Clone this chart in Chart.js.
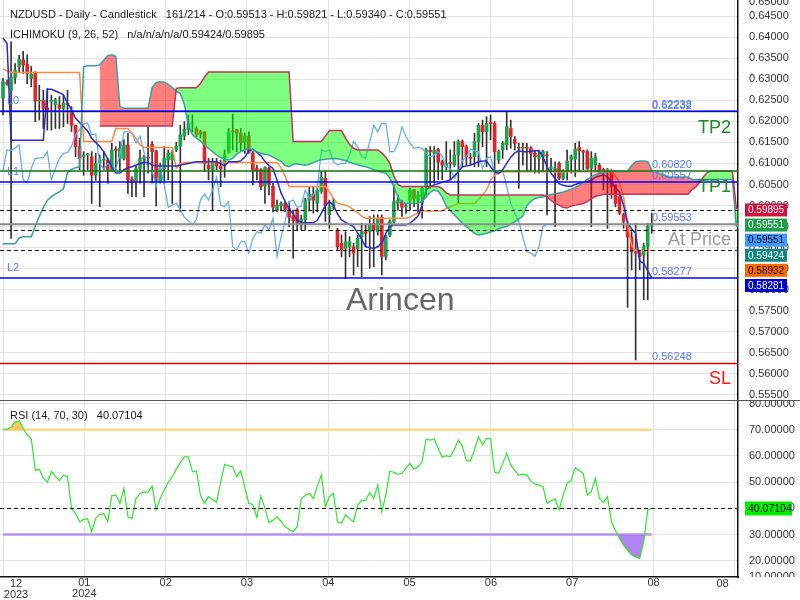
<!DOCTYPE html>
<html>
<head>
<meta charset="utf-8">
<script src="https://cdn.jsdelivr.net/npm/chart.js@4.4.1/dist/chart.umd.min.js"></script>
<style>
  body { margin: 0; background: #fff; }
  #wrap { width: 800px; height: 600px; overflow: hidden; }
  canvas { display: block; }
</style>
</head>
<body>
<div id="wrap">
  <canvas id="chart" width="800" height="400"></canvas>
  <canvas id="rsi" width="800" height="200"></canvas>
</div>
<script>
// daily candles, bar 0 .. 161
const opens = [
  0.6255,0.6293,0.6273,0.6304,0.6330,0.6346,0.6336,0.6302,0.6314,0.6248,
  0.6250,0.6232,0.6247,0.6239,0.6239,0.6231,0.6242,0.6223,0.6191,0.6140,
  0.6116,0.6120,0.6116,0.6072,0.6102,0.6108,0.6108,0.6084,0.6133,0.6112,
  0.6112,0.6144,0.6062,0.6057,0.6088,0.6112,0.6115,0.6146,0.6128,0.6057,
  0.6088,0.6108,0.6108,0.6132,0.6141,0.6165,0.6181,0.6194,0.6183,0.6175,
  0.6175,0.6096,0.6085,0.6102,0.6094,0.6100,0.6126,0.6176,0.6180,0.6172,
  0.6149,0.6165,0.6124,0.6088,0.6085,0.6046,0.6089,0.6046,0.5988,0.6000,
  0.6005,0.5993,0.5974,0.5990,0.5954,0.5966,0.6013,0.6027,0.6005,0.6033,
  0.6065,0.5978,0.5997,0.5942,0.5910,0.5898,0.5902,0.5902,0.5898,0.5926,
  0.5938,0.5938,0.5958,0.5938,0.5972,0.5879,0.5930,0.5962,0.6005,0.6009,
  0.5997,0.6013,0.6037,0.6013,0.6021,0.6045,0.6131,0.6124,0.6133,0.6104,
  0.6092,0.6101,0.6096,0.6120,0.6152,0.6140,0.6114,0.6116,0.6152,0.6191,
  0.6175,0.6196,0.6195,0.6108,0.6132,0.6144,0.6183,0.6157,0.6137,0.6136,
  0.6138,0.6136,0.6124,0.6112,0.6116,0.6120,0.6088,0.6085,0.6100,0.6065,
  0.6081,0.6110,0.6110,0.6138,0.6128,0.6128,0.6088,0.6096,0.6096,0.6084,
  0.6083,0.6080,0.6049,0.6021,0.5978,0.5955,0.5925,0.5890,0.5888,0.5882,
  0.5902,0.59513
];
const highs = [
  0.6302,0.6298,0.6389,0.6337,0.6357,0.6366,0.6358,0.6330,0.6318,0.6286,
  0.6274,0.6278,0.6262,0.6255,0.6259,0.6262,0.6274,0.6235,0.6191,0.6160,
  0.6128,0.6124,0.6128,0.6124,0.6120,0.6128,0.6112,0.6148,0.6140,0.6152,
  0.6156,0.6171,0.6068,0.6096,0.6132,0.6120,0.6187,0.6152,0.6132,0.6100,
  0.6140,0.6132,0.6132,0.6150,0.6191,0.6199,0.6215,0.6215,0.6187,0.6179,
  0.6175,0.6112,0.6112,0.6112,0.6108,0.6132,0.6183,0.6217,0.6181,0.6183,
  0.6172,0.6175,0.6128,0.6096,0.6088,0.6092,0.6092,0.6053,0.6013,0.6009,
  0.6009,0.6009,0.5989,0.5993,0.5977,0.6017,0.6045,0.6045,0.6045,0.6081,
  0.6081,0.6013,0.6017,0.5946,0.5930,0.5938,0.5926,0.5910,0.5930,0.5958,
  0.5954,0.5974,0.5978,0.5978,0.5978,0.5930,0.5966,0.6049,0.6025,0.6013,
  0.6005,0.6041,0.6039,0.6033,0.6045,0.6136,0.6140,0.6140,0.6136,0.6108,
  0.6152,0.6132,0.6152,0.6156,0.6156,0.6144,0.6124,0.6172,0.6195,0.6203,
  0.6211,0.6215,0.6199,0.6132,0.6152,0.6223,0.6203,0.6164,0.6148,0.6148,
  0.6148,0.6140,0.6132,0.6132,0.6132,0.6128,0.6112,0.6104,0.6104,0.6085,
  0.6132,0.6120,0.6148,0.6152,0.6132,0.6132,0.6128,0.6124,0.6100,0.6088,
  0.6088,0.6085,0.6049,0.6025,0.5982,0.5962,0.5938,0.5958,0.5894,0.5910,
  0.5958,0.59821
];
const lows = [
  0.6215,0.6286,0.5922,0.6290,0.6318,0.6314,0.6289,0.6282,0.6199,0.6203,
  0.6183,0.6179,0.6179,0.6183,0.6183,0.6187,0.6195,0.6176,0.6116,0.6085,
  0.6072,0.6085,0.6005,0.6060,0.5997,0.6085,0.6053,0.6081,0.6085,0.6081,
  0.6108,0.6029,0.6021,0.6021,0.6053,0.6021,0.6077,0.6053,0.5999,0.6053,
  0.6053,0.6061,0.6005,0.6128,0.5985,0.6156,0.6168,0.6175,0.6164,0.6160,
  0.6081,0.6061,0.5989,0.6085,0.6045,0.6067,0.6124,0.6132,0.6128,0.6128,
  0.6124,0.6124,0.6049,0.6061,0.6037,0.6005,0.6025,0.5985,0.5985,0.5989,
  0.5985,0.5950,0.5875,0.5942,0.5942,0.5942,0.5989,0.5982,0.5985,0.6029,
  0.5962,0.5946,0.5989,0.5894,0.5878,0.5827,0.5878,0.5835,0.5855,0.5831,
  0.5902,0.5851,0.5855,0.5930,0.5835,0.5871,0.5926,0.5958,0.5989,0.5974,
  0.5981,0.5989,0.5997,0.5981,0.5970,0.6025,0.6041,0.6053,0.6061,0.6061,
  0.6085,0.6061,0.6092,0.6005,0.6092,0.6096,0.6096,0.6092,0.6092,0.6140,
  0.6092,0.6156,0.5950,0.6100,0.6112,0.6132,0.6136,0.6132,0.6041,0.6096,
  0.6081,0.6081,0.6077,0.6077,0.6081,0.5978,0.6081,0.5950,0.6061,0.6061,
  0.6061,0.6077,0.6069,0.6081,0.6085,0.6085,0.5950,0.6081,0.6077,0.6037,
  0.5946,0.6017,0.5997,0.5978,0.5946,0.5758,0.5847,0.5633,0.5847,0.5776,
  0.5776,0.59340
];
const closes = [
  0.6294,0.6290,0.6304,0.6322,0.6347,0.6334,0.6314,0.6312,0.6248,0.6250,
  0.6231,0.6226,0.6250,0.6251,0.6231,0.6243,0.6240,0.6191,0.6140,0.6112,
  0.6120,0.6122,0.6072,0.6100,0.6108,0.6110,0.6084,0.6132,0.6131,0.6136,
  0.6144,0.6061,0.6054,0.6088,0.6112,0.6113,0.6113,0.6128,0.6061,0.6088,
  0.6112,0.6124,0.6126,0.6141,0.6168,0.6181,0.6194,0.6196,0.6168,0.6170,
  0.6099,0.6087,0.6100,0.6094,0.6087,0.6120,0.6175,0.6175,0.6172,0.6149,
  0.6165,0.6126,0.6083,0.6083,0.6045,0.6090,0.6049,0.5996,0.6001,0.6005,
  0.5991,0.5972,0.5964,0.5954,0.5967,0.6013,0.6027,0.6013,0.6037,0.6067,
  0.6001,0.5997,0.6009,0.5902,0.5894,0.5914,0.5914,0.5887,0.5922,0.5938,
  0.5934,0.5954,0.5942,0.5970,0.5879,0.5926,0.5962,0.6009,0.6013,0.5996,
  0.5999,0.6037,0.6017,0.6025,0.6041,0.6132,0.6128,0.6132,0.6104,0.6096,
  0.6100,0.6100,0.6120,0.6152,0.6140,0.6116,0.6112,0.6152,0.6191,0.6175,
  0.6195,0.6195,0.6128,0.6128,0.6148,0.6187,0.6164,0.6148,0.6136,0.6138,
  0.6136,0.6124,0.6116,0.6120,0.6128,0.6118,0.6092,0.6088,0.6065,0.6081,
  0.6106,0.6116,0.6134,0.6130,0.6127,0.6088,0.6112,0.6116,0.6078,0.6083,
  0.6084,0.6045,0.6005,0.5982,0.5962,0.5925,0.5890,0.5887,0.5879,0.5902,
  0.5951,0.59551
];

// ichimoku (9, 26, 52)
const tenkan = [
  0.6398,0.6385,0.6155,0.6155,0.6155,0.6155,0.6155,0.6155,0.6155,0.6155,
  0.6155,0.6276,0.6276,0.6272,0.6268,0.6263,0.6243,0.6227,0.6207,0.6197,
  0.6187,0.6177,0.6160,0.6150,0.6140,0.6128,0.6110,0.6092,0.6077,0.6077,
  0.6085,0.6090,0.6092,0.6096,0.6100,0.6102,0.6102,0.6096,0.6094,0.6094,
  0.6094,0.6094,0.6094,0.6094,0.6096,0.6098,0.6100,0.6102,0.6104,0.6104,
  0.6104,0.6104,0.6104,0.6104,0.6100,0.6094,0.6104,0.6104,0.6104,0.6106,
  0.6115,0.6130,0.6134,0.6126,0.6118,0.6105,0.6095,0.6088,0.6060,0.6030,
  0.6010,0.5992,0.5980,0.5965,0.5960,0.5959,0.5959,0.5959,0.5965,0.5982,
  0.6000,0.6009,0.6001,0.5980,0.5966,0.5960,0.5955,0.5950,0.5935,0.5920,
  0.5902,0.5900,0.5898,0.5902,0.5910,0.5934,0.5950,0.5954,0.5954,0.5954,
  0.5954,0.5958,0.5966,0.5975,0.6001,0.6037,0.6045,0.6049,0.6052,0.6055,
  0.6058,0.6061,0.6070,0.6080,0.6092,0.6094,0.6096,0.6100,0.6104,0.6106,
  0.6106,0.6092,0.6080,0.6076,0.6085,0.6100,0.6115,0.6125,0.6130,0.6128,
  0.6128,0.6129,0.6130,0.6130,0.6116,0.6092,0.6077,0.6065,0.6052,0.6048,
  0.6046,0.6046,0.6050,0.6053,0.6055,0.6057,0.6060,0.6067,0.6070,0.6073,
  0.6068,0.6057,0.6041,0.6033,0.6000,0.5958,0.5945,0.5934,0.5868,0.5863,
  0.5845,0.58281
];
const kijun = [
  0.6324,0.6320,0.6316,0.6316,0.6316,0.6316,0.6316,0.6316,0.6316,0.6316,
  0.6316,0.6316,0.6316,0.6316,0.6316,0.6316,0.6316,0.6316,0.6316,0.6316,
  0.6152,0.6152,0.6152,0.6152,0.6152,0.6152,0.6152,0.6152,0.6183,0.6183,
  0.6183,0.6183,0.6172,0.6160,0.6144,0.6138,0.6138,0.6138,0.6138,0.6138,
  0.6138,0.6138,0.6138,0.6089,0.6100,0.6102,0.6102,0.6102,0.6102,0.6102,
  0.6102,0.6102,0.6102,0.6102,0.6102,0.6102,0.6102,0.6102,0.6102,0.6102,
  0.6102,0.6102,0.6102,0.6102,0.6102,0.6102,0.6102,0.6102,0.6102,0.6090,
  0.6070,0.6045,0.6045,0.6045,0.6045,0.6045,0.6045,0.6045,0.6045,0.6045,
  0.6045,0.6033,0.6017,0.6005,0.6003,0.6001,0.5997,0.5990,0.5983,0.5975,
  0.5970,0.5970,0.5970,0.5970,0.5970,0.5970,0.5970,0.5970,0.5970,0.5970,
  0.5970,0.5972,0.5978,0.5982,0.5987,0.5987,0.5987,0.5987,0.5987,0.5987,
  0.5993,0.5997,0.6001,0.6005,0.6005,0.6005,0.6005,0.6005,0.6015,0.6025,
  0.6037,0.6060,0.6072,0.6078,0.6080,0.6080,0.6080,0.6080,0.6080,0.6080,
  0.6080,0.6080,0.6080,0.6080,0.6080,0.6080,0.6080,0.6080,0.6080,0.6080,
  0.6080,0.6080,0.6080,0.6080,0.6080,0.6080,0.6080,0.6080,0.6080,0.6080,
  0.6084,0.6082,0.6070,0.6055,0.6020,0.5960,0.5905,0.5893,0.5893,0.5893,
  0.5893,0.5893
];
// cloud, shifted forward: bar 0 .. 183
const senkouA = [
  0.5909,0.5909,0.5909,0.5909,0.5923,0.5926,0.5926,0.5926,0.5950,0.5975,
  0.5995,0.6012,0.6021,0.6027,0.6033,0.6040,0.6078,0.6086,0.6090,0.6092,
  0.6330,0.6332,0.6332,0.6332,0.6334,0.6345,0.6356,0.6358,0.6354,0.6235,
  0.6231,0.6231,0.6231,0.6231,0.6231,0.6231,0.6231,0.6280,0.6292,0.6294,
  0.6293,0.6288,0.6280,0.6272,0.6266,0.6240,0.6190,0.6168,0.6160,0.6153,
  0.6144,0.6136,0.6128,0.6120,0.6114,0.6110,0.6108,0.6112,0.6122,0.6128,
  0.6132,0.6136,0.6133,0.6128,0.6124,0.6122,0.6120,0.6115,0.6110,0.6105,
  0.6095,0.6092,0.6098,0.6099,0.6097,0.6096,0.6098,0.6102,0.6106,0.6109,
  0.6110,0.6111,0.6112,0.6111,0.6109,0.6107,0.6103,0.6100,0.6097,0.6094,
  0.6092,0.6089,0.6085,0.6082,0.6079,0.6077,0.6065,0.6045,0.6020,0.6008,
  0.6005,0.6005,0.6005,0.6005,0.6010,0.6020,0.6032,0.6037,0.6034,0.6020,
  0.5998,0.5988,0.5978,0.5968,0.5958,0.5950,0.5942,0.5934,0.5930,0.5932,
  0.5934,0.5937,0.5940,0.5945,0.5948,0.5950,0.5956,0.5962,0.5968,0.5975,
  0.6000,0.6010,0.6017,0.6019,0.6020,0.6023,0.6026,0.6028,0.6030,0.6032,
  0.6035,0.6039,0.6043,0.6048,0.6055,0.6062,0.6068,0.6074,0.6076,0.6078,
  0.6080,0.6081,0.6081,0.6081,0.6081,0.6081,0.6095,0.6104,0.6106,0.6106,
  0.6104,0.6084,0.6080,0.6076,0.6072,0.6068,0.6068,0.6068,0.6068,0.6068,
  0.6068,0.6062,0.6062,0.6062,0.6062,0.6062,0.6062,0.6062,0.6062,0.6062,
  0.6062,0.6062,0.5950,0.5950
];
const senkouB = [
  null,null,null,null,null,null,null,null,null,null,
  null,null,null,null,null,null,null,null,null,null,
  null,null,null,null,0.6189,0.6189,0.6189,0.6189,0.6189,0.6189,
  0.6189,0.6189,0.6189,0.6189,0.6189,0.6189,0.6189,0.6189,0.6189,0.6189,
  0.6189,0.6189,0.6189,0.6278,0.6280,0.6280,0.6280,0.6280,0.6280,0.6290,
  0.6305,0.6317,0.6317,0.6317,0.6317,0.6317,0.6317,0.6317,0.6317,0.6317,
  0.6317,0.6317,0.6317,0.6317,0.6317,0.6317,0.6317,0.6317,0.6317,0.6317,
  0.6317,0.6317,0.6152,0.6152,0.6152,0.6152,0.6152,0.6152,0.6152,0.6152,
  0.6165,0.6178,0.6178,0.6178,0.6178,0.6160,0.6145,0.6136,0.6132,0.6132,
  0.6132,0.6132,0.6132,0.6132,0.6125,0.6115,0.6100,0.6070,0.6050,0.6045,
  0.6045,0.6045,0.6045,0.6045,0.6045,0.6045,0.6045,0.6045,0.6045,0.6040,
  0.6030,0.6025,0.6025,0.6025,0.6025,0.6025,0.6025,0.6025,0.6025,0.6025,
  0.6025,0.6025,0.6025,0.6025,0.6025,0.6025,0.6025,0.6025,0.6025,0.6025,
  0.6025,0.6025,0.6025,0.6025,0.6025,0.6021,0.6012,0.6005,0.6001,0.5996,
  0.5994,0.5999,0.6001,0.6003,0.6005,0.6010,0.6016,0.6022,0.6024,0.6027,
  0.6027,0.6027,0.6027,0.6027,0.6027,0.6027,0.6027,0.6027,0.6027,0.6027,
  0.6027,0.6027,0.6027,0.6027,0.6027,0.6027,0.6027,0.6027,0.6027,0.6027,
  0.6027,0.6038,0.6045,0.6057,0.6070,0.6080,0.6082,0.6082,0.6082,0.6082,
  0.6082,0.6082,0.5993,0.5993
];

// RSI (14)
const rsiValues = [
  70.2,70.2,71.0,73.0,73.5,70.5,68.0,66.7,54.6,55.0,
  51.5,50.0,54.0,52.1,50.6,52.7,52.1,40.0,38.1,34.9,
  35.8,36.0,31.1,36.2,37.7,38.0,34.9,44.9,45.1,41.9,
  47.7,36.8,36.2,43.8,45.7,46.3,46.1,48.5,39.4,43.8,
  47.0,50.0,52.1,55.0,57.5,59.7,59.7,54.0,54.3,45.0,
  41.9,44.5,43.4,42.3,50.0,56.8,56.2,55.9,52.1,54.3,
  48.0,41.9,41.5,36.5,44.7,40.0,34.6,35.5,36.8,35.0,
  33.0,32.0,31.1,33.0,43.6,45.0,45.7,43.8,48.5,52.8,
  40.7,44.5,45.7,34.9,34.3,37.5,36.0,34.9,41.3,43.1,
  43.1,46.1,43.8,48.9,38.8,45.1,54.3,53.8,53.0,53.4,
  55.5,57.2,55.0,55.9,57.8,66.5,66.1,66.5,62.9,59.5,
  60.1,59.7,62.5,66.1,63.6,58.1,58.1,62.5,67.4,64.2,
  66.7,66.5,53.8,53.4,57.0,61.0,56.6,54.5,52.7,53.1,
  52.7,50.5,49.2,48.9,48.3,41.9,42.8,43.6,39.4,45.0,
  49.6,50.8,55.5,54.5,53.4,45.1,46.4,51.5,43.8,42.3,
  44.5,34.9,31.5,28.5,26.0,24.0,22.2,21.5,20.9,27.3,
  39.4,40.07104
];

const priceTicks = [0.555,0.560,0.565,0.570,0.575,0.580,0.585,0.590,0.595,0.600,
                    0.605,0.610,0.615,0.620,0.625,0.630,0.635,0.640,0.645];
const rsiTicks = [20,30,40,50,60,70,80];
const xTickLabels = [['12','2023'],['01','2024'],'02','03','04','05','06','07','08','08'];

const levelNames  = ['TP2','L0','TP1','L1','At Price','L2','SL'];
const levelValues = [0.62232,0.62238,0.60820,0.60557,0.59553,0.58277,0.56248];
const ichimokuLast = [0.59895,0.59424,0.58932];
const priceBoxes = ['0.59895','0.59551','0.59551','0.59424','0.58932','0.58281'];

const header1 = 'NZDUSD - Daily - Candlestick   161/214 - O:0.59513 - H:0.59821 - L:0.59340 - C:0.59551';
const header2 = 'ICHIMOKU (9, 26, 52)   n/a/n/a/n/a/0.59424/0.59895';

// ---------------------------------------------------------------
const FONT = '"Liberation Sans", Arial, sans-serif';
Chart.defaults.font.family = FONT;
Chart.defaults.font.size = 11;
Chart.defaults.color = '#333';

const X_MIN = -0.75, X_MAX = 182.4, GRID_STEP = 20.18;
const xTickValues = xTickLabels.map((_, k) => k * GRID_STEP);
const GRID = '#e3e3e3';

const idx = opens.map((_, i) => i);
const pts = arr => arr.map((v, i) => ({x: i, y: v}));
const chikou = closes.slice(26); // close plotted 26 bars back

const levelStyle = {
  'TP2':      {line: '#127512', width: 1.5, text: '#1e8c1e'},
  'L0':       {line: '#0000ff', width: 1.5},
  'TP1':      {line: '#127512', width: 1.5, text: '#1e8c1e'},
  'L1':       {line: '#0000ff', width: 1.5},
  'At Price': {line: '#8a8a8a', width: 2, text: '#9a9a9a'},
  'L2':       {line: '#0000ff', width: 1.5},
  'SL':       {line: '#dd0000', width: 1.5, text: '#ee1c1c'}
};
const boxStyle = [['#d10f3c','#fff'],['#1f9e49','#fff'],['#3d9bff','#000'],
                  ['#13877f','#fff'],['#ff6a00','#000'],['#0000cc','#fff']];

function noPad(s) { s.paddingTop = 0; s.paddingBottom = 0; s.paddingLeft = 0; s.paddingRight = 0; }

const mainOverlay = {
  id: 'mainOverlay',
  afterDraw(chart) {
    const {ctx, chartArea: a, scales: {y}} = chart;
    ctx.save();
    ctx.setLineDash([4, 3]);
    ctx.lineWidth = 1;
    ctx.strokeStyle = '#111';
    ichimokuLast.forEach(v => {
      const py = Math.round(y.getPixelForValue(v)) + 0.5;
      ctx.beginPath(); ctx.moveTo(a.left, py); ctx.lineTo(a.right, py); ctx.stroke();
    });
    ctx.setLineDash([]);
    levelNames.forEach((name, k) => {
      const st = levelStyle[name];
      const py = y.getPixelForValue(levelValues[k]);
      ctx.strokeStyle = st.line; ctx.lineWidth = st.width;
      ctx.beginPath(); ctx.moveTo(a.left, py); ctx.lineTo(a.right, py); ctx.stroke();
    });

    ctx.font = '11px ' + FONT;
    ctx.textBaseline = 'alphabetic';
    ctx.textAlign = 'left';
    ctx.fillStyle = '#5a78ff';
    levelValues.forEach(v => ctx.fillText(v.toFixed(5), 652, y.getPixelForValue(v) - 3));
    levelNames.forEach((name, k) => {
      if (name[0] === 'L') ctx.fillText(name, 7, y.getPixelForValue(levelValues[k]) - 7.5);
    });

    ctx.font = '18px ' + FONT;
    ctx.textAlign = 'right';
    levelNames.forEach((name, k) => {
      const st = levelStyle[name];
      if (!st.text) return;
      ctx.fillStyle = st.text;
      ctx.fillText(name, 731, y.getPixelForValue(levelValues[k]) + 21);
    });

    ctx.font = '32px ' + FONT;
    ctx.textAlign = 'left';
    ctx.fillStyle = '#666';
    ctx.fillText('Arincen', 346, 309.5);

    ctx.font = '11px ' + FONT;
    ctx.fillStyle = '#1a1a1a';
    ctx.fillText(header1, 10, 18);
    ctx.fillText(header2, 10, 37.5);

    // clamped top label
    ctx.fillStyle = '#333';
    ctx.fillText('0.65000', 749, 5);

    // last value boxes
    const top = y.getPixelForValue(Number(priceBoxes[0])) - 6.5;
    ctx.font = '10px ' + FONT;
    ctx.textBaseline = 'middle';
    priceBoxes.forEach((t, k) => {
      const by = top + k * 15.1;
      ctx.fillStyle = boxStyle[k][0];
      ctx.fillRect(745, by, 42, 13);
      ctx.fillStyle = boxStyle[k][1];
      ctx.fillText(t, 748, by + 7);
    });
    ctx.restore();
  }
};

new Chart(document.getElementById('chart'), {
  type: 'bar',
  data: {
    datasets: [
      {type: 'line', data: pts(senkouB), borderColor: '#c8305a', borderWidth: 1.5,
       pointRadius: 0, fill: false, order: 1},
      {type: 'line', data: pts(senkouA), borderColor: '#3c9e9e', borderWidth: 1.5,
       pointRadius: 0, order: 2,
       fill: {target: 0, above: 'rgba(255,0,0,0.5)', below: 'rgba(0,255,0,0.5)'}},
      {type: 'line', data: pts(tenkan), borderColor: '#2b2bcc', borderWidth: 1.5, pointRadius: 0, order: 3},
      {type: 'line', data: pts(kijun), borderColor: '#ff8a3d', borderWidth: 1.5, pointRadius: 0, order: 4},
      {type: 'line', data: pts(chikou), borderColor: '#5aaaf5', borderWidth: 1.2, pointRadius: 0, order: 5},
      {data: idx.map(i => ({x: i, y: [opens[i], closes[i]]})),
       backgroundColor: idx.map(i => closes[i] >= opens[i] ? '#1fa34a' : '#e0262c'),
       barThickness: 3, minBarLength: 1, grouped: false, order: 6},
      {data: idx.map(i => ({x: i, y: [lows[i], highs[i]]})),
       backgroundColor: '#333', barThickness: 1, grouped: false, order: 7}
    ]
  },
  options: {
    responsive: false, animation: false, events: [],
    layout: {padding: 0},
    plugins: {legend: {display: false}, tooltip: {enabled: false}},
    scales: {
      x: {
        type: 'linear', min: X_MIN, max: X_MAX, offset: false,
        afterBuildTicks: s => { s.ticks = xTickValues.map(v => ({value: v})); },
        afterFit: s => { s.height = 0; noPad(s); },
        ticks: {display: false},
        grid: {color: GRID, drawTicks: false, offset: false},
        border: {display: false}
      },
      y: {
        position: 'right', min: 0.55381, max: 0.64882,
        afterBuildTicks: s => { s.ticks = priceTicks.map(v => ({value: v})); },
        afterFit: s => { s.width = 62; noPad(s); },
        ticks: {callback: v => v.toFixed(5), padding: 11, color: '#333'},
        grid: {color: GRID, drawTicks: false},
        border: {display: true, color: '#111', width: 1.5}
      }
    }
  },
  plugins: [mainOverlay]
});

// ---------------- RSI panel ----------------
const rsiLast = rsiValues[rsiValues.length - 1];

const rsiOverlay = {
  id: 'rsiOverlay',
  afterDraw(chart) {
    const {ctx, chartArea: a, scales: {y}} = chart;
    ctx.save();
    ctx.strokeStyle = '#555'; ctx.lineWidth = 1;
    ctx.beginPath(); ctx.moveTo(0, 0.5); ctx.lineTo(800, 0.5); ctx.stroke();

    const py = Math.round(y.getPixelForValue(rsiLast)) + 0.5;
    ctx.setLineDash([4, 3]); ctx.strokeStyle = '#111';
    ctx.beginPath(); ctx.moveTo(a.left, py); ctx.lineTo(a.right, py); ctx.stroke();
    ctx.setLineDash([]);

    ctx.font = '11px ' + FONT;
    ctx.textAlign = 'left';
    ctx.textBaseline = 'alphabetic';
    ctx.fillStyle = '#1a1a1a';
    ctx.fillText('RSI (14, 70, 30)   ' + rsiLast.toFixed(5), 10, 19);

    ctx.fillStyle = '#00ee00';
    ctx.fillRect(745, py - 7, 47, 14);
    ctx.fillStyle = '#000';
    ctx.font = '10.5px ' + FONT;
    ctx.textBaseline = 'middle';
    ctx.fillText(rsiLast.toFixed(5), 748, py + 0.5);

    // edge labels of the time axis, kept inside the plot
    ctx.font = '11px ' + FONT;
    ctx.textBaseline = 'alphabetic';
    ctx.textAlign = 'center';
    ctx.fillStyle = '#333';
    const first = xTickLabels[0], last = xTickLabels[xTickLabels.length - 1];
    ctx.fillText(first[0], 16, 187);
    ctx.fillText(first[1], 16, 197.5);
    ctx.fillText(last, 722.5, 187);

    // clamped bottom label
    ctx.beginPath(); ctx.rect(a.right, 0, 62, a.bottom); ctx.clip();
    ctx.textAlign = 'left';
    ctx.fillText('10.00000', 749, 180);
    ctx.restore();
  }
};

new Chart(document.getElementById('rsi'), {
  type: 'line',
  data: {
    datasets: [
      {data: pts(rsiValues), borderColor: '#2be82b', borderWidth: 1.2, pointRadius: 0, order: 1,
       fill: {target: {value: 70}, above: 'rgba(255,190,70,0.85)', below: 'rgba(0,0,0,0)'}},
      {data: pts(rsiValues), borderWidth: 0, borderColor: 'rgba(0,0,0,0)', pointRadius: 0, order: 2,
       fill: {target: {value: 30}, above: 'rgba(0,0,0,0)', below: 'rgba(165,110,240,0.85)'}},
      {data: idx.map(i => ({x: i, y: 70})), borderColor: '#ffd98e', borderWidth: 2.5, pointRadius: 0, order: 3},
      {data: idx.map(i => ({x: i, y: 30})), borderColor: '#b997f0', borderWidth: 2.5, pointRadius: 0, order: 3}
    ]
  },
  options: {
    responsive: false, animation: false, events: [],
    layout: {padding: 0},
    plugins: {legend: {display: false}, tooltip: {enabled: false}},
    scales: {
      x: {
        type: 'linear', min: X_MIN, max: X_MAX,
        afterBuildTicks: s => { s.ticks = xTickValues.map(v => ({value: v})); },
        afterFit: s => { s.height = 23; noPad(s); },
        ticks: {
          callback: (v, k) => (k === 0 || k === xTickLabels.length - 1) ? '' : xTickLabels[k],
          maxRotation: 0, autoSkip: false, padding: 1, color: '#333',
          font: {size: 11, lineHeight: 0.955}
        },
        grid: {color: GRID, drawTicks: false},
        border: {display: true, color: '#111', width: 1.5}
      },
      y: {
        position: 'right', min: 13.82, max: 81.37,
        afterBuildTicks: s => { s.ticks = rsiTicks.map(v => ({value: v})); },
        afterFit: s => { s.width = 62; noPad(s); },
        ticks: {callback: v => v.toFixed(5), padding: 11, color: '#333'},
        grid: {color: GRID, drawTicks: false},
        border: {display: true, color: '#111', width: 1.5}
      }
    }
  },
  plugins: [rsiOverlay]
});
</script>
</body>
</html>
